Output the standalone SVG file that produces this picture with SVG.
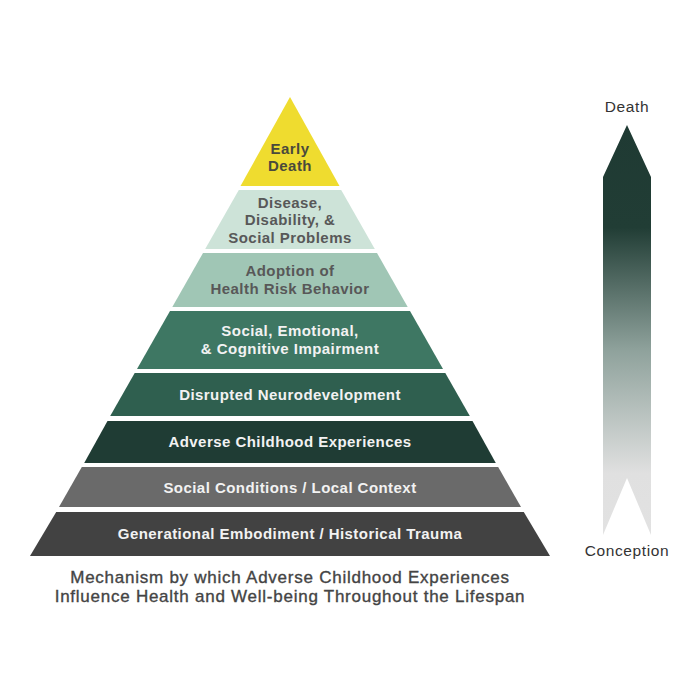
<svg xmlns="http://www.w3.org/2000/svg" width="675" height="675" viewBox="0 0 675 675">
<defs>
<linearGradient id="lifespan" x1="0" y1="125" x2="0" y2="535" gradientUnits="userSpaceOnUse">
<stop offset="0" stop-color="#1f3a33"/>
<stop offset="0.25" stop-color="#213d35"/>
<stop offset="0.55" stop-color="#8fa29c"/>
<stop offset="0.85" stop-color="#e0e0e0"/>
<stop offset="1" stop-color="#e2e2e2"/>
</linearGradient>
<style>
.lbl{font-family:"Liberation Sans",Arial,sans-serif;font-weight:bold;font-size:15px;letter-spacing:0.45px;text-anchor:middle}
.dk{fill:#585858}
.lt{fill:#f2f2f2}
.cap{font-family:"Liberation Sans",Arial,sans-serif;font-size:17px;letter-spacing:0.75px;fill:#444;stroke:#444;stroke-width:0.35px;text-anchor:middle}
.ax{font-family:"Liberation Sans",Arial,sans-serif;font-size:15.5px;letter-spacing:0.6px;fill:#333;text-anchor:middle}
</style>
</defs>
<rect width="675" height="675" fill="#ffffff"/>
<g id="level-early-death">
<polygon points="290,97 339.5,186 240.5,186" fill="#efdc2f"/>
<text class="lbl" fill="#4a4a3c" x="290" y="154">Early</text>
<text class="lbl" fill="#4a4a3c" x="290" y="171">Death</text>
</g>
<g id="level-disease">
<polygon points="238.8,190 341.2,190 374.8,249 205.2,249" fill="#cde3d8"/>
<text class="lbl dk" x="290" y="208">Disease,</text>
<text class="lbl dk" x="290" y="225">Disability, &amp;</text>
<text class="lbl dk" x="290" y="243">Social Problems</text>
</g>
<g id="level-adoption">
<polygon points="203,253 377,253 407.7,307 172.3,307" fill="#a0c6b5"/>
<text class="lbl dk" x="290" y="276">Adoption of</text>
<text class="lbl dk" x="290" y="294">Health Risk Behavior</text>
</g>
<g id="level-social-emotional">
<polygon points="170,311 410,311 443,369 137,369" fill="#3e7763"/>
<text class="lbl lt" x="290" y="336">Social, Emotional,</text>
<text class="lbl lt" x="290" y="354">&amp; Cognitive Impairment</text>
</g>
<g id="level-neurodevelopment">
<polygon points="134.7,373 445.3,373 469.8,416 110.2,416" fill="#2f5f4f"/>
<text class="lbl lt" x="290" y="400">Disrupted Neurodevelopment</text>
</g>
<g id="level-aces">
<polygon points="107.5,421 472.5,421 495.8,463 84.2,463" fill="#1f3c34"/>
<text class="lbl lt" x="290" y="447">Adverse Childhood Experiences</text>
</g>
<g id="level-social-conditions">
<polygon points="81.8,467 498.2,467 521,507 59,507" fill="#6a6a6a"/>
<text class="lbl lt" x="290" y="493">Social Conditions / Local Context</text>
</g>
<g id="level-generational">
<polygon points="56.2,512 523.8,512 550,556 30,556" fill="#424242"/>
<text class="lbl lt" x="290" y="539">Generational Embodiment / Historical Trauma</text>
</g>
<g id="caption">
<text class="cap" x="290" y="583">Mechanism by which Adverse Childhood Experiences</text>
<text class="cap" x="290" y="602">Influence Health and Well-being Throughout the Lifespan</text>
</g>
<g id="lifespan-arrow">
<polygon points="627,125 651,177 651,535 627,478 603,535 603,177" fill="url(#lifespan)"/>
<text class="ax" x="627" y="112">Death</text>
<text class="ax" x="627" y="556">Conception</text>
</g>
</svg>
